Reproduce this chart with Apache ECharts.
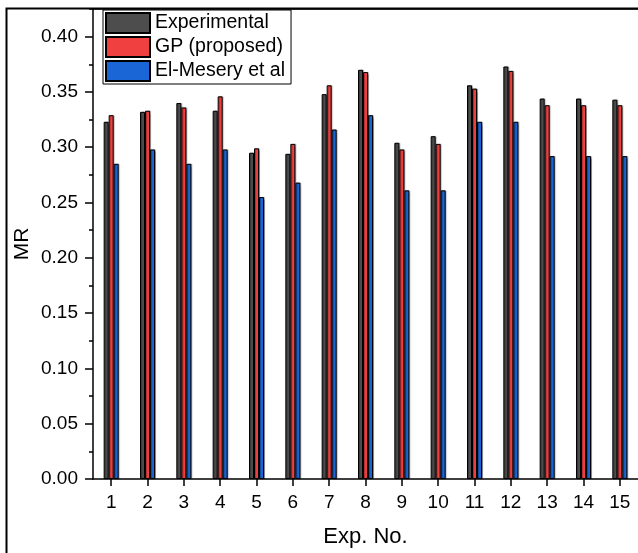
<!DOCTYPE html>
<html>
<head>
<meta charset="utf-8">
<script src="https://cdn.jsdelivr.net/npm/echarts@6/dist/echarts.min.js"></script>
<style>html,body{margin:0;padding:0;background:#fff}#c{width:638px;height:553px}</style>
</head>
<body>
<div id="c"></div>
<script>
var categories = ['1','2','3','4','5','6','7','8','9','10','11','12','13','14','15'];
var experimental = [0.323,0.332,0.340,0.333,0.295,0.294,0.348,0.370,0.304,0.310,0.356,0.373,0.344,0.344,0.343];
var gpProposed = [0.329,0.333,0.336,0.346,0.299,0.303,0.356,0.368,0.298,0.303,0.353,0.369,0.338,0.338,0.338];
var elMesery = [0.285,0.298,0.285,0.298,0.255,0.268,0.316,0.329,0.261,0.261,0.323,0.323,0.292,0.292,0.292];
var seriesNames = ['Experimental','GP (proposed)','El-Mesery et al'];
var yMajorTicks = [0,0.05,0.10,0.15,0.20,0.25,0.30,0.35,0.40];

var FONT = '"Liberation Sans", Arial, sans-serif';
var colors = ['#4d4d4d','#f04040','#1a66d6'];
var chart = echarts.init(document.getElementById('c'), null, {renderer:'canvas'});

function bar(name, data, color){
  return {
    name: name, type: 'bar', data: data, barWidth: 5, barGap: '0%',
    xAxisIndex: 0, yAxisIndex: 0,
    itemStyle: {color: color, borderColor: '#000', borderWidth: 1,
      shadowColor: 'rgba(0,0,0,0.3)', shadowOffsetX: 1, shadowOffsetY: 0, shadowBlur: 1},
    emphasis: {disabled: true}, animation: false
  };
}

chart.setOption({
  animation: false,
  backgroundColor: '#fff',
  grid: {left: 93, top: 9, width: 547, bottom: 73, containLabel: false},
  legend: {
    orient: 'vertical', left: 103, top: 10,
    itemWidth: 44, itemHeight: 20, itemGap: 2,
    padding: [2, 6, 2, 2],
    borderColor: '#000', borderWidth: 1, backgroundColor: '#fff',
    textStyle: {fontFamily: FONT, fontSize: 19.5, lineHeight: 20, color: '#000'},
    icon: 'rect',
    data: seriesNames
  },
  xAxis: [{
    type: 'category', data: categories, position: 'bottom',
    axisLine: {show: true, lineStyle: {color: '#000', width: 1.5}},
    axisTick: {show: true, alignWithLabel: true, length: 7, lineStyle: {color: '#000', width: 1.5}},
    axisLabel: {fontFamily: FONT, fontSize: 19, color: '#000', margin: 14},
    name: 'Exp. No.', nameLocation: 'middle', nameGap: 47,
    nameTextStyle: {fontFamily: FONT, fontSize: 22, color: '#000'},
    splitLine: {show: false}
  },{
    type: 'category', data: categories, position: 'top',
    axisLine: {show: true, onZero: false, lineStyle: {color: '#000', width: 1.5}},
    axisTick: {show: false}, axisLabel: {show: false}, splitLine: {show: false}
  }],
  yAxis: [{
    type: 'value', min: 0, max: 0.425, interval: 0.025, position: 'left',
    axisLine: {show: true, lineStyle: {color: '#000', width: 1.5}},
    axisTick: {show: true, length: 4, lineStyle: {color: '#000', width: 1.5}},
    axisLabel: {show: false},
    splitLine: {show: false},
    name: 'MR', nameLocation: 'middle', nameGap: 60, nameRotate: 90,
    nameTextStyle: {fontFamily: FONT, fontSize: 21, color: '#000'}
  },{
    type: 'value', min: 0, max: 0.425, interval: 0.025, position: 'left', offset: 0,
    axisLine: {show: false},
    axisTick: {show: true, length: 8, customValues: yMajorTicks, lineStyle: {color: '#000', width: 1.5}},
    axisLabel: {show: true, customValues: yMajorTicks, fontFamily: FONT, fontSize: 19, color: '#000', margin: 15,
      formatter: function(v){ return v.toFixed(2); }},
    splitLine: {show: false}
  }],
  graphic: [{
    type: 'rect', left: 4, top: 6, silent: true,
    shape: {x: 4, y: 6, width: 700, height: 600},
    style: {fill: 'none', stroke: '#000', lineWidth: 2}
  }],
  series: [
    bar(seriesNames[0], experimental, colors[0]),
    bar(seriesNames[1], gpProposed, colors[1]),
    bar(seriesNames[2], elMesery, colors[2])
  ]
});
</script>
</body>
</html>
